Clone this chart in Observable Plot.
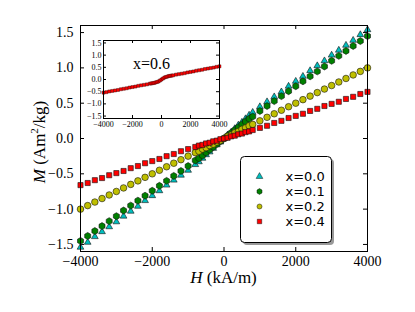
<!DOCTYPE html>
<html><head><meta charset="utf-8">
<script src="https://cdn.jsdelivr.net/npm/d3@7"></script>
<script src="https://cdn.jsdelivr.net/npm/@observablehq/plot@0.6"></script>
<style>body{margin:0;background:white}#wrap{position:relative;width:415px;height:312px}</style>
</head><body><div id="wrap"></div>
<script>
// field H (kA/m)
const H = [-4000,-3800,-3600,-3400,-3200,-3000,-2800,-2600,-2400,-2200,-2000,-1800,-1600,-1400,-1200,-1000,-800,-700,-600,-500,-400,-300,-200,-100,0,100,200,300,400,500,600,700,800,1000,1200,1400,1600,1800,2000,2200,2400,2600,2800,3000,3200,3400,3600,3800,4000];
// magnetization M (Am^2/kg)
const M_x00 = [-1.54,-1.47,-1.39,-1.32,-1.25,-1.18,-1.10,-1.03,-0.96,-0.88,-0.81,-0.74,-0.66,-0.59,-0.52,-0.45,-0.37,-0.33,-0.28,-0.23,-0.19,-0.14,-0.09,-0.05,0,0.05,0.09,0.14,0.19,0.23,0.28,0.33,0.37,0.45,0.52,0.59,0.66,0.74,0.81,0.88,0.96,1.03,1.10,1.18,1.25,1.32,1.39,1.47,1.54];
const M_x01 = [-1.45,-1.38,-1.31,-1.24,-1.17,-1.10,-1.02,-0.95,-0.88,-0.81,-0.74,-0.67,-0.60,-0.53,-0.46,-0.39,-0.31,-0.28,-0.24,-0.20,-0.16,-0.12,-0.08,-0.04,0,0.04,0.08,0.12,0.16,0.20,0.24,0.28,0.31,0.39,0.46,0.53,0.60,0.67,0.74,0.81,0.88,0.95,1.02,1.10,1.17,1.24,1.31,1.38,1.45];
const M_x02 = [-1.00,-0.95,-0.90,-0.85,-0.80,-0.75,-0.70,-0.65,-0.60,-0.55,-0.50,-0.45,-0.40,-0.35,-0.30,-0.25,-0.20,-0.18,-0.15,-0.13,-0.10,-0.08,-0.05,-0.03,0,0.03,0.05,0.08,0.10,0.13,0.15,0.18,0.20,0.25,0.30,0.35,0.40,0.45,0.50,0.55,0.60,0.65,0.70,0.75,0.80,0.85,0.90,0.95,1.00];
const M_x04 = [-0.66,-0.63,-0.59,-0.56,-0.52,-0.49,-0.46,-0.42,-0.39,-0.35,-0.32,-0.29,-0.25,-0.22,-0.18,-0.15,-0.12,-0.10,-0.09,-0.07,-0.06,-0.04,-0.03,-0.01,0,0.01,0.03,0.04,0.06,0.07,0.09,0.10,0.12,0.15,0.18,0.22,0.25,0.29,0.32,0.35,0.39,0.42,0.46,0.49,0.52,0.56,0.59,0.63,0.66];
const M_x06 = [-0.54,-0.52,-0.49,-0.47,-0.45,-0.43,-0.40,-0.38,-0.36,-0.33,-0.31,-0.29,-0.26,-0.24,-0.22,-0.20,-0.17,-0.16,-0.15,-0.14,-0.12,-0.10,-0.08,-0.04,0,0.04,0.08,0.10,0.12,0.14,0.15,0.16,0.17,0.20,0.22,0.24,0.26,0.29,0.31,0.33,0.36,0.38,0.40,0.43,0.45,0.47,0.49,0.52,0.54];
const seriesLabels = ["x=0.0","x=0.1","x=0.2","x=0.4"];
const insetLabel = "x=0.6";
const xTicks = [-4000,-2000,0,2000,4000];
const yTicks = [-1.5,-1.0,-0.5,0,0.5,1.0,1.5];

// styles
const colors = ["#00bfbf","#008000","#bfbf00","#ff0000"];
const symbols = ["triangle","hexagon","circle","square"];
const radii = [2.5,3,3.3,2.9];

const seriesValues = [M_x00, M_x01, M_x02, M_x04];
const tables = seriesValues.map(vals => H.map((h,i)=>({H:h, M:vals[i]})));
const insetRows = H.map((h,i)=>({H:h, M:M_x06[i]}));
const fmtY = d3.format(".1f");
const fmtX = d3.format("d");

const main = Plot.plot({
  width:415, height:312,
  marginLeft:80, marginRight:48, marginTop:25, marginBottom:61,
  style:{fontFamily:"Liberation Serif", fontSize:"14px", background:"white", color:"black", overflow:"visible"},
  x:{domain:[-4000,4000]},
  y:{domain:[-1.6,1.6]},
  marks:[
    Plot.axisX(xTicks,{tickSize:0, tickPadding:5, label:null, tickFormat:fmtX, fontFamily:"Liberation Serif", fontSize:14}),
    Plot.axisY(yTicks,{tickSize:0, tickPadding:7, label:null, tickFormat:fmtY, fontFamily:"Liberation Serif", fontSize:14}),
    Plot.tickX(xTicks,{x:d=>d, insetTop:222, stroke:"black"}),
    Plot.tickX(xTicks,{x:d=>d, insetBottom:222, stroke:"black"}),
    Plot.tickY(yTicks,{y:d=>d, insetRight:283, stroke:"black"}),
    Plot.tickY(yTicks,{y:d=>d, insetLeft:283, stroke:"black"}),
    ...tables.map((rows,k)=>Plot.dot(rows,{x:"H", y:"M", symbol:symbols[k], r:radii[k], fill:colors[k], stroke:"#111", strokeWidth:0.6})),
    Plot.frame({stroke:"black"})
  ]
});
const svg = d3.select(main);
const xl = svg.append("text").attr("x",223.5).attr("y",283).attr("text-anchor","middle")
  .attr("font-family","Liberation Serif").attr("font-size",17).attr("fill","black");
xl.append("tspan").attr("font-style","italic").text("H");
xl.append("tspan").text(" (kA/m)");
const yl = svg.append("text").attr("transform","translate(45,142) rotate(-90)").attr("text-anchor","middle")
  .attr("font-family","Liberation Serif").attr("font-size",17).attr("fill","black");
yl.append("tspan").attr("font-style","italic").text("M");
yl.append("tspan").text(" (Am");
yl.append("tspan").attr("font-size",11).attr("dy",-7).text("2");
yl.append("tspan").attr("dy",7).text("/kg)");
document.getElementById("wrap").appendChild(main);

const inset = Plot.plot({
  width:146, height:98, marginLeft:20, marginRight:10, marginTop:5, marginBottom:15,
  style:{fontFamily:"Liberation Serif", fontSize:"8px", background:"transparent", color:"black", overflow:"visible"},
  x:{domain:[-4000,4000]},
  y:{domain:[-1.6,1.6]},
  marks:[
    Plot.frame({fill:"white"}),
    Plot.axisX(xTicks,{tickSize:0, tickPadding:3, label:null, tickFormat:fmtX, fontFamily:"Liberation Serif", fontSize:8}),
    Plot.axisY(yTicks,{tickSize:0, tickPadding:2, label:null, tickFormat:fmtY, fontFamily:"Liberation Serif", fontSize:8}),
    Plot.tickX(xTicks,{x:d=>d, insetTop:75, stroke:"black"}),
    Plot.tickX(xTicks,{x:d=>d, insetBottom:75, stroke:"black"}),
    Plot.tickY(yTicks,{y:d=>d, insetRight:113, stroke:"black"}),
    Plot.tickY(yTicks,{y:d=>d, insetLeft:113, stroke:"black"}),
    Plot.dot(insetRows,{x:"H", y:"M", symbol:"square", r:1.7, fill:"#ff0000", stroke:"#300", strokeWidth:0.4}),
    Plot.text([insetLabel],{text:d=>d, frameAnchor:"top", dx:-10, dy:17, fontSize:16, fontFamily:"Liberation Serif", textAnchor:"middle", fill:"black"}),
    Plot.frame({stroke:"black"})
  ]
});
inset.style.position="absolute"; inset.style.left="83px"; inset.style.top="35px";
document.getElementById("wrap").appendChild(inset);

const legend = Plot.plot({
  width:95, height:90, marginLeft:0, marginTop:0, marginRight:4, marginBottom:4,
  style:{fontFamily:"DejaVu Sans", fontSize:"13px", background:"transparent", color:"black", overflow:"visible"},
  x:{domain:[0,1], range:[19,45], axis:null},
  y:{type:"point", domain:seriesLabels, range:[12.5,72.5], axis:null},
  symbol:{domain:seriesLabels, range:symbols},
  color:{domain:seriesLabels, range:colors},
  marks:[
    Plot.frame({fill:"#999", rx:4, dx:2.5, dy:2.5}),
    Plot.frame({fill:"white", stroke:"black", rx:4}),
    Plot.dot(seriesLabels,{x:()=>0, y:d=>d, symbol:d=>d, fill:d=>d, r:2.5, stroke:"#111", strokeWidth:0.5}),
    Plot.text(seriesLabels,{x:()=>1, y:d=>d, text:d=>d, textAnchor:"start", fill:"black"})
  ]
});
legend.style.position="absolute"; legend.style.left="240px"; legend.style.top="156px";
document.getElementById("wrap").appendChild(legend);
</script></body></html>
